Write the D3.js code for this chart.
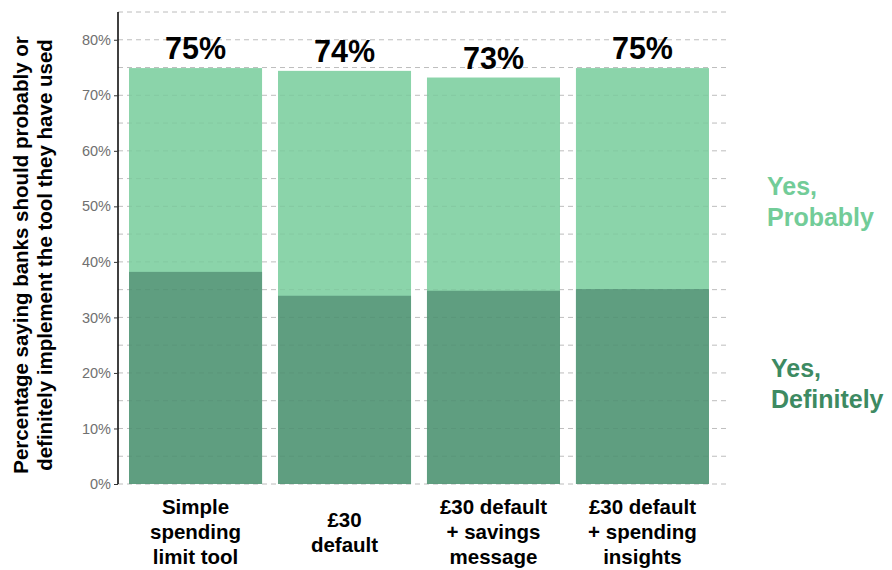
<!DOCTYPE html>
<html><head><meta charset="utf-8">
<script src="https://cdn.jsdelivr.net/npm/d3@7"></script>
<style>body{margin:0;background:#fff;font-family:"Liberation Sans",Arial,sans-serif;}</style>
</head><body><svg id="c" width="892" height="570"></svg>
<script>
const categories = [["Simple","spending","limit tool"],["£30","default"],["£30 default","+ savings","message"],["£30 default","+ spending","insights"]];
const definitely = [38.2, 33.9, 34.8, 35.1];
const total = [74.9, 74.4, 73.2, 74.9];
const totalLabels = ["75%","74%","73%","75%"];
const yTicks = [0,10,20,30,40,50,60,70,80];
const gridVals = d3.range(0, 90, 5);

const svg = d3.select("#c");
const x = d3.scaleBand().domain(d3.range(4)).range([118, 720]).paddingInner(0.107).paddingOuter(0.074);
const y = d3.scaleLinear().domain([0, 85]).range([484, 12]);

// grid
svg.append("g").selectAll("line").data(gridVals).join("line")
  .attr("x1", 118).attr("x2", 727).attr("y1", d=>y(d)).attr("y2", d=>y(d))
  .attr("stroke", "#c8c8c8").attr("stroke-dasharray", "5,4").attr("stroke-width", 1);

// bars
const g = svg.append("g");
g.selectAll("rect.p").data(total).join("rect")
  .attr("x", (d,i)=>x(i)).attr("width", x.bandwidth())
  .attr("y", d=>y(d)).attr("height", d=>y(0)-y(d)).attr("fill", "#8bd4aa");
g.selectAll("rect.d").data(definitely).join("rect")
  .attr("x", (d,i)=>x(i)).attr("width", x.bandwidth())
  .attr("y", d=>y(d)).attr("height", d=>y(0)-y(d)).attr("fill", "#5f9e80");

// faint grid over bars
svg.append("g").selectAll("line").data(gridVals).join("line")
  .attr("x1", 118).attr("x2", 727).attr("y1", d=>y(d)).attr("y2", d=>y(d))
  .attr("stroke", "#000").attr("stroke-opacity", 0.05).attr("stroke-dasharray", "5,4");

// total labels
svg.append("g").selectAll("text").data(total).join("text")
  .attr("x", (d,i)=>x(i)+x.bandwidth()/2).attr("y", d=>y(d)-9)
  .attr("text-anchor","middle").attr("font-size", 30.5).attr("font-weight","bold").attr("fill","#000")
  .text((d,i)=>totalLabels[i]);

// y axis
const ya = svg.append("g").attr("transform","translate(118,0)")
  .call(d3.axisLeft(y).tickValues(yTicks).tickFormat(d=>d+"%").tickSize(4));
ya.select(".domain").attr("stroke","#000").attr("stroke-width",1.5).attr("d","M0,12V484");
ya.selectAll(".tick line").attr("stroke","#333");
ya.selectAll(".tick text").attr("fill","#707070").attr("font-size",14.5).attr("font-family","Liberation Sans, Arial, sans-serif");

// x labels
categories.forEach((lines,i)=>{
  const cx = x(i)+x.bandwidth()/2;
  const n = lines.length;
  const startY = n===3 ? 514 : 527;
  const t = svg.append("text").attr("text-anchor","middle").attr("font-size",20.5).attr("font-weight","bold").attr("fill","#000");
  lines.forEach((l,j)=>t.append("tspan").attr("x",cx).attr("y",startY+j*25).text(l));
});

// y title
const yt = svg.append("text").attr("transform","translate(0,255) rotate(-90)")
  .attr("text-anchor","middle").attr("font-size",20.5).attr("font-weight","bold").attr("fill","#000");
yt.append("tspan").attr("x",0).attr("y",28).text("Percentage saying banks should probably or");
yt.append("tspan").attr("x",0).attr("y",52).text("definitely implement the tool they have used");

// legend
const leg = [{lines:["Yes,","Probably"], c:"#72cc98", x:767, y:195},{lines:["Yes,","Definitely"], c:"#3d8a62", x:771, y:377}];
leg.forEach(l=>{
  const t = svg.append("text").attr("font-size",25).attr("font-weight","bold").attr("fill",l.c);
  l.lines.forEach((s,j)=>t.append("tspan").attr("x",l.x).attr("y",l.y+j*31).text(s));
});
</script></body></html>
